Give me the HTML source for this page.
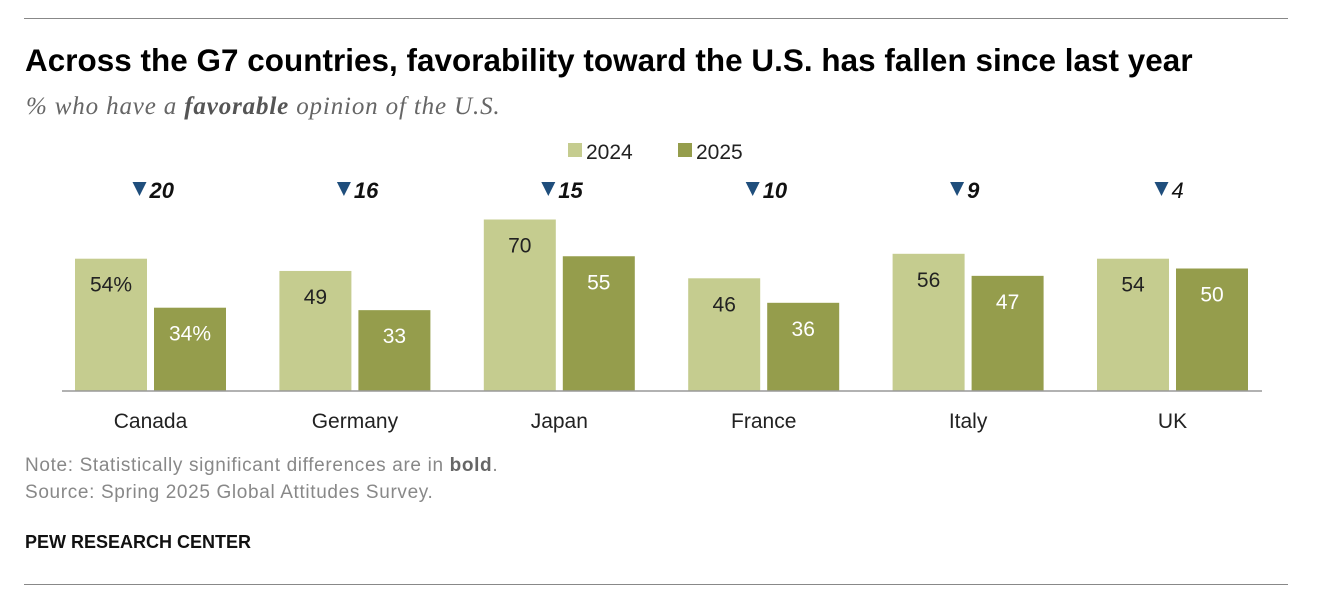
<!DOCTYPE html>
<html><head><meta charset="utf-8"><style>
body{margin:0;background:#fff;width:1324px;height:610px;overflow:hidden;font-family:"Liberation Sans",sans-serif;position:relative}
.abs{position:absolute;white-space:nowrap}
</style></head><body>
<div class="abs" style="left:24px;top:18px;width:1264px;height:1px;background:#888"></div>
<div class="abs" style="left:25px;top:43px;font-size:31.4px;font-weight:bold;color:#000;letter-spacing:0.05px">Across the G7 countries, favorability toward the U.S. has fallen since last year</div>
<div class="abs" style="left:26px;top:93px;font-family:'Liberation Serif',serif;font-style:italic;font-size:25px;letter-spacing:0.85px;color:#666">% who have a <b style="color:#555">favorable</b> opinion of the U.S.</div>
<svg class="abs" style="left:0;top:0" width="1324" height="610" id="chart"></svg>
<div class="abs" style="left:25px;top:455px;font-size:19px;letter-spacing:0.65px;color:#888">Note: Statistically significant differences are in <b style="color:#666">bold</b>.</div>
<div class="abs" style="left:25px;top:482px;font-size:19px;letter-spacing:0.65px;color:#888">Source: Spring 2025 Global Attitudes Survey.</div>
<div class="abs" style="left:25px;top:532px;font-size:18px;font-weight:bold;color:#111">PEW RESEARCH CENTER</div>
<div class="abs" style="left:24px;top:584px;width:1264px;height:1px;background:#888"></div>
<script>
const categories=["Canada","Germany","Japan","France","Italy","UK"];
const values2024=[54,49,70,46,56,54];
const values2025=[34,33,55,36,47,50];
const diffs=[20,16,15,10,9,4];
const significant=[true,true,true,true,true,false];
const svg=document.getElementById('chart');
const NS='http://www.w3.org/2000/svg';
const base=391,scale=2.45,x0=75,step=204.4,bw=72,gap=7;
const y=v=>base-v*scale;
function mk(t,a,txt){const e=document.createElementNS(NS,t);for(const k in a)e.setAttribute(k,a[k]);if(txt!=null)e.textContent=txt;svg.appendChild(e);return e;}
let l1=mk('rect',{x:568,y:143,width:14,height:14,fill:'#c5cc8f'});


let lt1=mk('text',{x:586,y:159,'font-size':21,fill:'#222'},'2024');


let l2=mk('rect',{x:678,y:143,width:14,height:14,fill:'#959d4c'});


let lt2=mk('text',{x:696,y:159,'font-size':21,fill:'#222'},'2025');


categories.forEach((c,i)=>{
  const gx=x0+i*step;
  const b1=mk('rect',{x:gx,y:y(values2024[i]),width:bw,height:values2024[i]*scale,fill:'#c5cc8f'});
  
  
  const b2=mk('rect',{x:gx+bw+gap,y:y(values2025[i]),width:bw,height:values2025[i]*scale,fill:'#959d4c'});
  
  
  const s=i===0?'%':'';
  const t1=mk('text',{x:gx+bw/2,y:y(values2024[i])+33,'font-size':21,fill:'#222','text-anchor':'middle'},values2024[i]+s);
  
  
  const t2=mk('text',{x:gx+bw*1.5+gap,y:y(values2025[i])+33,'font-size':21,fill:'#fff','text-anchor':'middle'},values2025[i]+s);
  
  
  const cx=gx+bw+gap/2;
  const tri=mk('polygon',{points:`${cx-18},182 ${cx-4},182 ${cx-11},196`,fill:'#1f4e7c'});
  
  
  const d=mk('text',{x:cx-1,y:198,'font-size':22,'font-style':'italic','font-weight':significant[i]?'bold':'normal',fill:'#111'},diffs[i]);
  
  
  const cl=mk('text',{x:cx,y:428,'font-size':21,fill:'#222','text-anchor':'middle'},c);
  
  
});
const ax=mk('line',{x1:62,x2:1262,y1:base,y2:base,stroke:'#999','stroke-width':1.5});


</script>
</body></html>
